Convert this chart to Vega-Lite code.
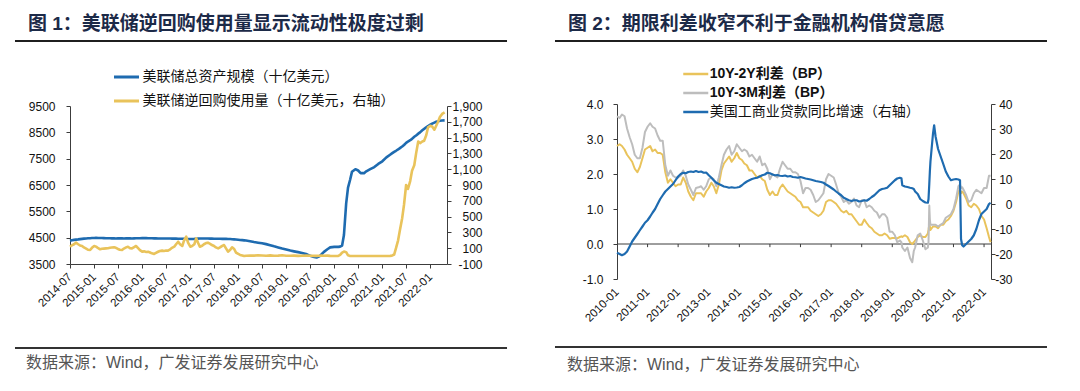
{
  "$schema": "https://vega.github.io/schema/vega-lite/v6.json",
  "background": "#ffffff",
  "padding": {"left": 13, "top": 0, "right": 0, "bottom": 0},
  "spacing": 44,
  "resolve": {"scale": {"color": "independent"}},
  "config": {
    "view": {"stroke": null},
    "axis": {"labelFont": "Liberation Sans", "labelColor": "#111111", "domainColor": "#3c3c3c", "tickColor": "#3c3c3c", "domainWidth": 1, "tickWidth": 1, "labelFontSize": 12, "grid": false, "labelOverlap": false, "labelFlush": false}
  },
  "hconcat": [
    {
      "bounds": "flush",
      "spacing": 0,
      "resolve": {"scale": {"color": "independent"}},
      "vconcat": [
        {
          "width": 377, "height": 106,
          "data": {"values": [{"t": "图 1：美联储逆回购使用量显示流动性极度过剩"}]},
          "layer": [
            {"mark": {"type": "rule", "color": "#1f1f1f", "strokeWidth": 2},
             "encoding": {
               "x": {"datum": -0.1459, "type": "quantitative", "scale": {"domain": [0, 1], "nice": false, "zero": false}, "axis": null},
               "x2": {"datum": 1.1592},
               "y": {"datum": 0.6132, "type": "quantitative", "scale": {"domain": [0, 1], "nice": false, "zero": false}, "axis": null}}},
            {"mark": {"type": "text", "align": "left", "baseline": "middle", "font": "Liberation Sans, Noto Sans CJK SC", "fontSize": 19, "fontWeight": "bold", "color": "#1c2a48"},
             "encoding": {
               "text": {"field": "t"},
               "x": {"datum": -0.1114, "type": "quantitative"},
               "y": {"datum": 0.7736, "type": "quantitative"}}}
          ]
        },
        {
          "width": 377, "height": 158,
          "data": {"format": {"parse": {"d": "date:'%Y-%m-%d'"}}, "values": [
            {"d":"2014-07-01","a":4380,"b":119},{"d":"2014-07-15","a":4400,"b":135},{"d":"2014-08-01","a":4415,"b":150},{"d":"2014-08-15","a":4425,"b":170},
            {"d":"2014-09-01","a":4435,"b":150},{"d":"2014-09-15","a":4445,"b":135},{"d":"2014-10-01","a":4455,"b":128},{"d":"2014-10-15","a":4462,"b":110},
            {"d":"2014-11-01","a":4470,"b":95},{"d":"2014-11-15","a":4475,"b":80},{"d":"2014-12-01","a":4480,"b":77},{"d":"2014-12-15","a":4485,"b":105},
            {"d":"2015-01-01","a":4490,"b":128},{"d":"2015-01-15","a":4492,"b":120},{"d":"2015-02-01","a":4490,"b":100},{"d":"2015-02-15","a":4488,"b":86},
            {"d":"2015-03-01","a":4485,"b":92},{"d":"2015-03-15","a":4482,"b":95},{"d":"2015-04-01","a":4480,"b":98},{"d":"2015-04-15","a":4478,"b":100},
            {"d":"2015-05-01","a":4476,"b":105},{"d":"2015-05-15","a":4474,"b":108},{"d":"2015-06-01","a":4472,"b":111},{"d":"2015-06-15","a":4470,"b":105},
            {"d":"2015-07-01","a":4472,"b":90},{"d":"2015-07-15","a":4475,"b":80},{"d":"2015-08-01","a":4474,"b":77},{"d":"2015-08-15","a":4470,"b":95},
            {"d":"2015-09-01","a":4472,"b":110},{"d":"2015-09-15","a":4475,"b":119},{"d":"2015-10-01","a":4472,"b":100},{"d":"2015-10-15","a":4470,"b":98},
            {"d":"2015-11-01","a":4474,"b":115},{"d":"2015-11-15","a":4476,"b":128},{"d":"2015-12-01","a":4478,"b":100},{"d":"2015-12-15","a":4480,"b":75},
            {"d":"2016-01-01","a":4482,"b":56},{"d":"2016-01-15","a":4485,"b":60},{"d":"2016-02-01","a":4482,"b":52},{"d":"2016-02-15","a":4480,"b":56},
            {"d":"2016-03-01","a":4478,"b":45},{"d":"2016-03-15","a":4476,"b":35},{"d":"2016-04-01","a":4474,"b":27},{"d":"2016-04-15","a":4472,"b":40},
            {"d":"2016-05-01","a":4470,"b":55},{"d":"2016-05-15","a":4470,"b":65},{"d":"2016-06-01","a":4470,"b":69},{"d":"2016-06-15","a":4470,"b":65},
            {"d":"2016-07-01","a":4468,"b":70},{"d":"2016-07-15","a":4468,"b":69},{"d":"2016-08-01","a":4466,"b":85},{"d":"2016-08-15","a":4465,"b":105},
            {"d":"2016-09-01","a":4463,"b":119},{"d":"2016-09-15","a":4462,"b":150},{"d":"2016-10-01","a":4460,"b":182},{"d":"2016-10-15","a":4460,"b":150},
            {"d":"2016-11-01","a":4458,"b":128},{"d":"2016-11-15","a":4456,"b":200},{"d":"2016-12-01","a":4452,"b":246},{"d":"2016-12-15","a":4450,"b":170},
            {"d":"2017-01-01","a":4450,"b":119},{"d":"2017-01-15","a":4452,"b":128},{"d":"2017-02-01","a":4455,"b":150},{"d":"2017-02-15","a":4460,"b":225},
            {"d":"2017-03-01","a":4465,"b":170},{"d":"2017-03-15","a":4468,"b":119},{"d":"2017-04-01","a":4470,"b":130},{"d":"2017-04-15","a":4470,"b":150},
            {"d":"2017-05-01","a":4468,"b":165},{"d":"2017-05-15","a":4466,"b":170},{"d":"2017-06-01","a":4464,"b":155},{"d":"2017-06-15","a":4462,"b":140},
            {"d":"2017-07-01","a":4460,"b":128},{"d":"2017-07-15","a":4460,"b":110},{"d":"2017-08-01","a":4458,"b":98},{"d":"2017-08-15","a":4456,"b":110},
            {"d":"2017-09-01","a":4455,"b":130},{"d":"2017-09-15","a":4455,"b":140},{"d":"2017-10-01","a":4455,"b":95},{"d":"2017-10-15","a":4452,"b":56},
            {"d":"2017-11-01","a":4448,"b":80},{"d":"2017-11-15","a":4442,"b":111},{"d":"2017-12-01","a":4436,"b":90},{"d":"2017-12-15","a":4430,"b":45},
            {"d":"2018-01-01","a":4420,"b":27},{"d":"2018-01-15","a":4412,"b":15},{"d":"2018-02-01","a":4405,"b":8},{"d":"2018-02-15","a":4398,"b":1},
            {"d":"2018-03-01","a":4390,"b":5},{"d":"2018-04-01","a":4365,"b":8},{"d":"2018-05-01","a":4335,"b":6},{"d":"2018-06-01","a":4310,"b":10},
            {"d":"2018-07-01","a":4285,"b":7},{"d":"2018-08-01","a":4255,"b":5},{"d":"2018-09-01","a":4215,"b":9},{"d":"2018-10-01","a":4170,"b":4},
            {"d":"2018-11-01","a":4130,"b":6},{"d":"2018-12-01","a":4085,"b":10},{"d":"2019-01-01","a":4050,"b":5},{"d":"2019-02-01","a":4010,"b":4},
            {"d":"2019-03-01","a":3980,"b":6},{"d":"2019-04-01","a":3950,"b":3},{"d":"2019-05-01","a":3920,"b":5},{"d":"2019-06-01","a":3880,"b":8},
            {"d":"2019-07-01","a":3810,"b":4},{"d":"2019-08-01","a":3770,"b":3},{"d":"2019-08-20","a":3750,"b":3},{"d":"2019-09-10","a":3790,"b":5},
            {"d":"2019-09-25","a":3860,"b":6},{"d":"2019-10-15","a":3960,"b":4},{"d":"2019-11-10","a":4060,"b":6},{"d":"2019-12-01","a":4130,"b":3},
            {"d":"2020-01-01","a":4150,"b":2},{"d":"2020-02-01","a":4150,"b":2},{"d":"2020-02-15","a":4160,"b":15},{"d":"2020-03-01","a":4200,"b":45},
            {"d":"2020-03-15","a":4600,"b":58},{"d":"2020-04-01","a":5800,"b":50},{"d":"2020-04-15","a":6400,"b":10},{"d":"2020-05-01","a":6700,"b":2},
            {"d":"2020-05-15","a":7000,"b":2},{"d":"2020-06-10","a":7100,"b":2},{"d":"2020-07-01","a":7050,"b":2},{"d":"2020-07-20","a":6950,"b":2},
            {"d":"2020-08-15","a":6950,"b":2},{"d":"2020-09-01","a":7020,"b":2},{"d":"2020-10-01","a":7100,"b":2},{"d":"2020-11-01","a":7180,"b":2},
            {"d":"2020-12-01","a":7300,"b":2},{"d":"2021-01-01","a":7400,"b":2},{"d":"2021-02-01","a":7550,"b":2},{"d":"2021-03-01","a":7650,"b":3},
            {"d":"2021-03-15","a":7700,"b":5},{"d":"2021-04-01","a":7760,"b":20},{"d":"2021-04-15","a":7800,"b":100},{"d":"2021-05-01","a":7850,"b":200},
            {"d":"2021-05-15","a":7900,"b":330},{"d":"2021-06-01","a":7960,"b":480},{"d":"2021-06-15","a":8020,"b":650},{"d":"2021-07-01","a":8100,"b":900},
            {"d":"2021-07-15","a":8150,"b":850},{"d":"2021-08-01","a":8200,"b":950},{"d":"2021-08-15","a":8250,"b":1080},{"d":"2021-09-01","a":8330,"b":1150},
            {"d":"2021-09-15","a":8380,"b":1300},{"d":"2021-10-01","a":8450,"b":1450},{"d":"2021-10-15","a":8500,"b":1430},{"d":"2021-11-01","a":8580,"b":1450},
            {"d":"2021-11-15","a":8630,"b":1460},{"d":"2021-12-01","a":8690,"b":1530},{"d":"2021-12-15","a":8740,"b":1630},{"d":"2022-01-01","a":8790,"b":1650},
            {"d":"2022-01-15","a":8830,"b":1640},{"d":"2022-02-01","a":8870,"b":1600},{"d":"2022-02-15","a":8900,"b":1650},{"d":"2022-03-01","a":8920,"b":1700},
            {"d":"2022-03-15","a":8940,"b":1760},{"d":"2022-04-01","a":8950,"b":1800},{"d":"2022-04-20","a":8955,"b":1820}
          ]},
          "encoding": {
            "x": {"field": "d", "type": "temporal", "title": null,
                  "scale": {"domain": [{"year": 2014, "month": 7, "date": 1}, {"year": 2022, "month": 5, "date": 8}]},
                  "axis": {"tickCount": {"interval": "month", "step": 6}, "format": "%Y-%m", "labelAngle": -45, "labelAlign": "right", "labelBaseline": "middle", "labelPadding": 7, "tickSize": 4, "labelFontSize": 11.5, "labelOverlap": false}}
          },
          "layer": [
            {"mark": {"type": "line", "strokeWidth": 2.6, "strokeJoin": "round"},
             "encoding": {
               "y": {"field": "a", "type": "quantitative", "title": null,
                     "scale": {"domain": [3500, 9500], "nice": false, "zero": false},
                     "axis": {"orient": "left", "values": [3500, 4500, 5500, 6500, 7500, 8500, 9500], "format": "d", "tickSize": 4, "labelPadding": 11, "labelOverlap": false}},
               "color": {"datum": "美联储总资产规模（十亿美元）", "type": "nominal",
                         "scale": {"domain": ["美联储总资产规模（十亿美元）", "美联储逆回购使用量（十亿美元，右轴）"], "range": ["#1e6bb0", "#e9c35b"]},
                         "legend": {"orient": "none", "legendX": 42.5, "legendY": -41, "title": null, "direction": "vertical", "symbolType": "stroke", "symbolSize": 625, "symbolStrokeWidth": 3, "labelFont": "Noto Sans CJK SC", "labelFontSize": 14, "labelColor": "#111111", "labelOffset": 2, "clipHeight": 24, "rowPadding": 0, "padding": 0, "labelLimit": 400}}}},
            {"mark": {"type": "line", "strokeWidth": 2.6, "strokeJoin": "round"},
             "encoding": {
               "y": {"field": "b", "type": "quantitative", "title": null,
                     "scale": {"domain": [-100, 1900], "nice": false, "zero": false},
                     "axis": {"orient": "right", "values": [-100, 100, 300, 500, 700, 900, 1100, 1300, 1500, 1700, 1900], "labelExpr": "datum.value < 0 ? '-' + format(-datum.value, ',') : format(datum.value, ',')", "tickSize": 4, "labelPadding": 31, "labelAlign": "right", "labelOverlap": false}},
               "color": {"datum": "美联储逆回购使用量（十亿美元，右轴）", "type": "nominal"}}}
          ],
          "resolve": {"scale": {"y": "independent"}}
        },
        {
          "width": 377, "height": 127,
          "data": {"values": [{"t": "数据来源：Wind，广发证券发展研究中心"}]},
          "layer": [
            {"mark": {"type": "rule", "color": "#333333", "strokeWidth": 2},
             "encoding": {
               "x": {"datum": -0.1459, "type": "quantitative", "scale": {"domain": [0, 1], "nice": false, "zero": false}, "axis": null},
               "x2": {"datum": 1.1592},
               "y": {"datum": 0.3386, "type": "quantitative", "scale": {"domain": [0, 1], "nice": false, "zero": false}, "axis": null}}},
            {"mark": {"type": "text", "align": "left", "baseline": "middle", "font": "Liberation Sans, Noto Sans CJK SC", "fontSize": 16, "color": "#555555"},
             "encoding": {
               "text": {"field": "t"},
               "x": {"datum": -0.1167, "type": "quantitative"},
               "y": {"datum": 0.2205, "type": "quantitative"}}}
          ]
        }
      ]
    },
    {
      "bounds": "flush",
      "spacing": 0,
      "resolve": {"scale": {"color": "independent"}},
      "vconcat": [
        {
          "width": 374, "height": 104,
          "data": {"values": [{"t": "图 2：期限利差收窄不利于金融机构借贷意愿"}]},
          "layer": [
            {"mark": {"type": "rule", "color": "#1f1f1f", "strokeWidth": 2},
             "encoding": {
               "x": {"datum": -0.1658, "type": "quantitative", "scale": {"domain": [0, 1], "nice": false, "zero": false}, "axis": null},
               "x2": {"datum": 1.1497},
               "y": {"datum": 0.6058, "type": "quantitative", "scale": {"domain": [0, 1], "nice": false, "zero": false}, "axis": null}}},
            {"mark": {"type": "text", "align": "left", "baseline": "middle", "font": "Liberation Sans, Noto Sans CJK SC", "fontSize": 19, "fontWeight": "bold", "color": "#1c2a48"},
             "encoding": {
               "text": {"field": "t"},
               "x": {"datum": -0.1310, "type": "quantitative"},
               "y": {"datum": 0.7692, "type": "quantitative"}}}
          ]
        },
        {
          "width": 374, "height": 175,
          "data": {"format": {"parse": {"d": "date:'%Y-%m-%d'"}}, "values": [
            {"d":"2010-01-01","a":2.80,"b":3.65,"c":-19.5},{"d":"2010-02-01","a":2.85,"b":3.60,"c":-20.0},{"d":"2010-03-01","a":2.80,"b":3.70,"c":-20.5},
            {"d":"2010-04-01","a":2.70,"b":3.65,"c":-20.0},{"d":"2010-05-01","a":2.55,"b":3.30,"c":-19.0},{"d":"2010-06-01","a":2.45,"b":3.05,"c":-17.0},
            {"d":"2010-07-01","a":2.35,"b":2.85,"c":-15.0},{"d":"2010-08-01","a":2.15,"b":2.55,"c":-13.5},{"d":"2010-09-01","a":2.05,"b":2.45,"c":-12.0},
            {"d":"2010-10-01","a":2.20,"b":2.45,"c":-10.5},{"d":"2010-11-01","a":2.45,"b":2.75,"c":-9.0},{"d":"2010-12-01","a":2.70,"b":3.20,"c":-7.5},
            {"d":"2011-01-01","a":2.75,"b":3.35,"c":-6.5},{"d":"2011-02-01","a":2.80,"b":3.45,"c":-5.0},{"d":"2011-03-01","a":2.65,"b":3.35,"c":-3.5},
            {"d":"2011-04-01","a":2.70,"b":3.30,"c":-2.0},{"d":"2011-05-01","a":2.60,"b":3.10,"c":0.0},{"d":"2011-06-01","a":2.60,"b":2.95,"c":2.0},
            {"d":"2011-07-01","a":2.55,"b":2.95,"c":3.5},{"d":"2011-08-01","a":2.05,"b":2.25,"c":5.0},{"d":"2011-09-01","a":1.75,"b":1.95,"c":6.0},
            {"d":"2011-10-01","a":1.85,"b":2.10,"c":7.0},{"d":"2011-11-01","a":1.75,"b":1.95,"c":8.0},{"d":"2011-12-01","a":1.65,"b":1.90,"c":9.5},
            {"d":"2012-01-01","a":1.70,"b":1.90,"c":11.0},{"d":"2012-02-01","a":1.70,"b":1.95,"c":12.0},{"d":"2012-03-01","a":1.90,"b":2.10,"c":12.5},
            {"d":"2012-04-01","a":1.75,"b":1.95,"c":12.3},{"d":"2012-05-01","a":1.50,"b":1.70,"c":12.8},{"d":"2012-06-01","a":1.35,"b":1.55,"c":13.0},
            {"d":"2012-07-01","a":1.25,"b":1.40,"c":12.8},{"d":"2012-08-01","a":1.45,"b":1.60,"c":13.2},{"d":"2012-09-01","a":1.45,"b":1.62,"c":12.8},
            {"d":"2012-10-01","a":1.45,"b":1.65,"c":13.0},{"d":"2012-11-01","a":1.35,"b":1.55,"c":12.5},{"d":"2012-12-01","a":1.50,"b":1.65,"c":12.6},
            {"d":"2013-01-01","a":1.60,"b":1.85,"c":11.5},{"d":"2013-02-01","a":1.75,"b":1.90,"c":10.5},{"d":"2013-03-01","a":1.65,"b":1.85,"c":9.5},
            {"d":"2013-04-01","a":1.45,"b":1.65,"c":8.5},{"d":"2013-05-01","a":1.70,"b":1.90,"c":8.0},{"d":"2013-06-01","a":2.10,"b":2.25,"c":7.5},
            {"d":"2013-07-01","a":2.30,"b":2.55,"c":7.0},{"d":"2013-08-01","a":2.40,"b":2.70,"c":6.8},{"d":"2013-09-01","a":2.50,"b":2.80,"c":6.5},
            {"d":"2013-10-01","a":2.35,"b":2.55,"c":6.7},{"d":"2013-11-01","a":2.45,"b":2.65,"c":6.5},{"d":"2013-12-01","a":2.60,"b":2.85,"c":6.6},
            {"d":"2014-01-01","a":2.45,"b":2.75,"c":6.8},{"d":"2014-02-01","a":2.40,"b":2.65,"c":7.5},{"d":"2014-03-01","a":2.30,"b":2.70,"c":8.3},
            {"d":"2014-04-01","a":2.25,"b":2.65,"c":9.0},{"d":"2014-05-01","a":2.10,"b":2.50,"c":9.5},{"d":"2014-06-01","a":2.10,"b":2.55,"c":10.0},
            {"d":"2014-07-01","a":2.00,"b":2.45,"c":10.3},{"d":"2014-08-01","a":1.90,"b":2.35,"c":10.5},{"d":"2014-09-01","a":1.95,"b":2.50,"c":11.0},
            {"d":"2014-10-01","a":1.85,"b":2.25,"c":11.5},{"d":"2014-11-01","a":1.80,"b":2.30,"c":11.8},{"d":"2014-12-01","a":1.55,"b":2.15,"c":12.5},
            {"d":"2015-01-01","a":1.40,"b":1.85,"c":12.3},{"d":"2015-02-01","a":1.50,"b":2.00,"c":11.8},{"d":"2015-03-01","a":1.40,"b":1.95,"c":11.5},
            {"d":"2015-04-01","a":1.40,"b":1.90,"c":11.6},{"d":"2015-05-01","a":1.60,"b":2.15,"c":11.3},{"d":"2015-06-01","a":1.70,"b":2.35,"c":11.2},
            {"d":"2015-07-01","a":1.60,"b":2.25,"c":11.4},{"d":"2015-08-01","a":1.50,"b":2.15,"c":11.0},{"d":"2015-09-01","a":1.45,"b":2.15,"c":11.2},
            {"d":"2015-10-01","a":1.40,"b":2.05,"c":10.8},{"d":"2015-11-01","a":1.35,"b":2.05,"c":10.7},{"d":"2015-12-01","a":1.25,"b":2.00,"c":10.5},
            {"d":"2016-01-01","a":1.20,"b":1.80,"c":10.8},{"d":"2016-02-01","a":1.05,"b":1.45,"c":10.5},{"d":"2016-03-01","a":1.05,"b":1.60,"c":10.2},
            {"d":"2016-04-01","a":1.05,"b":1.60,"c":10.0},{"d":"2016-05-01","a":0.95,"b":1.55,"c":9.8},{"d":"2016-06-01","a":0.90,"b":1.40,"c":9.5},
            {"d":"2016-07-01","a":0.85,"b":1.20,"c":9.2},{"d":"2016-08-01","a":0.80,"b":1.25,"c":9.0},{"d":"2016-09-01","a":0.85,"b":1.35,"c":8.8},
            {"d":"2016-10-01","a":0.95,"b":1.45,"c":8.5},{"d":"2016-11-01","a":1.20,"b":1.85,"c":7.8},{"d":"2016-12-01","a":1.25,"b":2.00,"c":7.2},
            {"d":"2017-01-01","a":1.25,"b":1.95,"c":6.5},{"d":"2017-02-01","a":1.20,"b":1.90,"c":5.8},{"d":"2017-03-01","a":1.15,"b":1.70,"c":5.0},
            {"d":"2017-04-01","a":1.05,"b":1.45,"c":4.2},{"d":"2017-05-01","a":0.95,"b":1.35,"c":3.5},{"d":"2017-06-01","a":0.90,"b":1.20,"c":2.5},
            {"d":"2017-07-01","a":0.95,"b":1.25,"c":2.0},{"d":"2017-08-01","a":0.85,"b":1.15,"c":1.5},{"d":"2017-09-01","a":0.85,"b":1.20,"c":1.2},
            {"d":"2017-10-01","a":0.75,"b":1.30,"c":1.5},{"d":"2017-11-01","a":0.65,"b":1.10,"c":1.5},{"d":"2017-12-01","a":0.55,"b":1.05,"c":1.0},
            {"d":"2018-01-01","a":0.55,"b":1.25,"c":1.2},{"d":"2018-02-01","a":0.70,"b":1.25,"c":1.5},{"d":"2018-03-01","a":0.60,"b":1.05,"c":1.3},
            {"d":"2018-04-01","a":0.50,"b":1.10,"c":2.0},{"d":"2018-05-01","a":0.45,"b":1.05,"c":2.8},{"d":"2018-06-01","a":0.35,"b":0.95,"c":3.5},
            {"d":"2018-07-01","a":0.30,"b":0.90,"c":4.5},{"d":"2018-08-01","a":0.25,"b":0.75,"c":5.5},{"d":"2018-09-01","a":0.25,"b":0.85,"c":6.0},
            {"d":"2018-10-01","a":0.30,"b":0.85,"c":6.2},{"d":"2018-11-01","a":0.25,"b":0.75,"c":6.5},{"d":"2018-12-01","a":0.15,"b":0.35,"c":7.5},
            {"d":"2019-01-01","a":0.17,"b":0.35,"c":8.5},{"d":"2019-02-01","a":0.17,"b":0.25,"c":9.5},{"d":"2019-03-01","a":0.16,"b":0.05,"c":10.2},
            {"d":"2019-04-01","a":0.20,"b":0.10,"c":10.5},{"d":"2019-04-20","a":0.22,"b":0.05,"c":10.3},{"d":"2019-05-01","a":0.20,"b":-0.10,"c":7.5},
            {"d":"2019-06-01","a":0.25,"b":-0.20,"c":7.0},{"d":"2019-07-01","a":0.20,"b":-0.10,"c":6.8},{"d":"2019-08-01","a":0.05,"b":-0.40,"c":6.5},
            {"d":"2019-08-28","a":0.00,"b":-0.52,"c":6.3},{"d":"2019-09-15","a":0.05,"b":-0.20,"c":6.0},{"d":"2019-10-01","a":0.10,"b":-0.10,"c":5.0},
            {"d":"2019-11-01","a":0.20,"b":0.25,"c":4.0},{"d":"2019-12-01","a":0.25,"b":0.30,"c":2.0},{"d":"2020-01-01","a":0.20,"b":0.10,"c":1.2},
            {"d":"2020-02-01","a":0.20,"b":-0.15,"c":0.6},{"d":"2020-03-01","a":0.30,"b":-0.10,"c":0.5},{"d":"2020-03-09","a":0.40,"b":0.05,"c":2.0},
            {"d":"2020-03-18","a":0.55,"b":1.10,"c":8.0},{"d":"2020-03-25","a":0.50,"b":0.70,"c":13.0},{"d":"2020-04-01","a":0.40,"b":0.55,"c":17.0},
            {"d":"2020-05-01","a":0.50,"b":0.55,"c":28.0},{"d":"2020-05-15","a":0.50,"b":0.55,"c":31.5},{"d":"2020-06-01","a":0.50,"b":0.55,"c":27.0},
            {"d":"2020-07-01","a":0.45,"b":0.50,"c":22.0},{"d":"2020-08-01","a":0.55,"b":0.55,"c":19.0},{"d":"2020-09-01","a":0.55,"b":0.60,"c":16.0},
            {"d":"2020-10-01","a":0.65,"b":0.75,"c":13.0},{"d":"2020-11-01","a":0.70,"b":0.80,"c":11.0},{"d":"2020-12-01","a":0.80,"b":0.85,"c":9.5},
            {"d":"2021-01-01","a":0.95,"b":1.00,"c":9.8},{"d":"2021-02-01","a":1.20,"b":1.30,"c":10.0},{"d":"2021-03-01","a":1.50,"b":1.65,"c":9.8},
            {"d":"2021-03-20","a":1.55,"b":1.70,"c":9.5},{"d":"2021-04-01","a":1.45,"b":1.60,"c":-14.0},{"d":"2021-04-15","a":1.50,"b":1.62,"c":-16.5},
            {"d":"2021-05-01","a":1.45,"b":1.55,"c":-17.0},{"d":"2021-06-01","a":1.30,"b":1.40,"c":-16.0},{"d":"2021-07-01","a":1.10,"b":1.20,"c":-15.0},
            {"d":"2021-08-01","a":1.05,"b":1.25,"c":-14.0},{"d":"2021-09-01","a":1.15,"b":1.45,"c":-12.5},{"d":"2021-10-01","a":1.10,"b":1.55,"c":-10.0},
            {"d":"2021-11-01","a":1.00,"b":1.50,"c":-6.5},{"d":"2021-12-01","a":0.80,"b":1.45,"c":-4.0},{"d":"2022-01-01","a":0.70,"b":1.60,"c":-3.0},
            {"d":"2022-02-01","a":0.45,"b":1.60,"c":-2.0},{"d":"2022-03-01","a":0.20,"b":1.95,"c":0.0},{"d":"2022-03-20","a":0.05,"b":1.95,"c":0.5}
          ]},
          "layer": [
            {"mark": {"type": "rule", "color": "#3c3c3c", "strokeWidth": 1},
             "data": {"values": [{"k": "zero"}]},
             "encoding": {
               "y": {"datum": 0, "type": "quantitative", "title": null, "scale": {"domain": [-1, 4], "nice": false, "zero": false}, "axis": null}}},
            {"mark": {"type": "rule", "color": "#3c3c3c", "strokeWidth": 1},
             "data": {"format": {"parse": {"d": "date:'%Y-%m-%d'"}}, "values": [
               {"d":"2011-01-01"},{"d":"2012-01-01"},{"d":"2013-01-01"},{"d":"2014-01-01"},{"d":"2015-01-01"},{"d":"2016-01-01"},
               {"d":"2017-01-01"},{"d":"2018-01-01"},{"d":"2019-01-01"},{"d":"2020-01-01"},{"d":"2021-01-01"},{"d":"2022-01-01"}]},
             "encoding": {
               "x": {"field": "d", "type": "temporal", "title": null},
               "y": {"datum": 0, "type": "quantitative", "title": null, "scale": {"domain": [-1, 4], "nice": false, "zero": false}, "axis": null},
               "y2": {"datum": -0.09}}},
            {"mark": {"type": "line", "strokeWidth": 2, "strokeJoin": "round"},
             "encoding": {
               "x": {"field": "d", "type": "temporal", "title": null,
                     "scale": {"domain": [{"year": 2010, "month": 1, "date": 1}, {"year": 2022, "month": 3, "date": 25}]},
                     "axis": {"tickCount": {"interval": "year", "step": 1}, "format": "%Y-%m", "labelAngle": -45, "labelAlign": "right", "labelBaseline": "middle", "labelPadding": 11, "ticks": false, "tickSize": 0, "domain": false, "labelFontSize": 11.5, "labelOverlap": false}},
               "y": {"field": "a", "type": "quantitative", "title": null,
                     "scale": {"domain": [-1, 4], "nice": false, "zero": false},
                     "axis": {"orient": "left", "values": [-1, 0, 1, 2, 3, 4], "labelExpr": "datum.value < 0 ? '-' + format(-datum.value, '.1f') : format(datum.value, '.1f')", "tickSize": 4, "labelPadding": 10, "labelOverlap": false}},
               "color": {"datum": "10Y-2Y利差（BP）", "type": "nominal",
                         "scale": {"domain": ["10Y-2Y利差（BP）", "10Y-3M利差（BP）", "美国工商业贷款同比增速（右轴）"], "range": ["#e9c35b", "#bdbdbd", "#1e6bb0"]},
                         "legend": {"orient": "none", "legendX": 64.75, "legendY": -39.5, "title": null, "direction": "vertical", "symbolType": "stroke", "symbolSize": 625, "symbolStrokeWidth": 2.5, "labelFont": "Liberation Sans, Noto Sans CJK SC", "labelFontSize": 14, "labelColor": "#111111", "labelOffset": 0, "clipHeight": 19, "rowPadding": 0, "padding": 0, "labelLimit": 400,
                                    "encode": {"labels": {"update": {"fontWeight": {"signal": "datum.value === '美国工商业贷款同比增速（右轴）' ? 'normal' : 'bold'"}}}}}}}},
            {"mark": {"type": "line", "strokeWidth": 2, "strokeJoin": "round"},
             "encoding": {
               "x": {"field": "d", "type": "temporal", "title": null},
               "y": {"field": "b", "type": "quantitative", "title": null, "scale": {"domain": [-1, 4], "nice": false, "zero": false}, "axis": null},
               "color": {"datum": "10Y-3M利差（BP）", "type": "nominal"}}},
            {"mark": {"type": "line", "strokeWidth": 2.2, "strokeJoin": "round"},
             "encoding": {
               "x": {"field": "d", "type": "temporal", "title": null},
               "y": {"field": "c", "type": "quantitative", "title": null,
                     "scale": {"domain": [-30, 40], "nice": false, "zero": false},
                     "axis": {"orient": "right", "values": [-30, -20, -10, 0, 10, 20, 30, 40], "labelExpr": "datum.value < 0 ? '-' + format(-datum.value, 'd') : format(datum.value, 'd')", "tickSize": 4, "labelPadding": 17, "labelAlign": "right", "labelOverlap": false}},
               "color": {"datum": "美国工商业贷款同比增速（右轴）", "type": "nominal"}}}
          ],
          "resolve": {"scale": {"y": "independent"}}
        },
        {
          "width": 374, "height": 112,
          "data": {"values": [{"t": "数据来源：Wind，广发证券发展研究中心"}]},
          "layer": [
            {"mark": {"type": "rule", "color": "#333333", "strokeWidth": 2},
             "encoding": {
               "x": {"datum": -0.1658, "type": "quantitative", "scale": {"domain": [0, 1], "nice": false, "zero": false}, "axis": null},
               "x2": {"datum": 1.1497},
               "y": {"datum": 0.3929, "type": "quantitative", "scale": {"domain": [0, 1], "nice": false, "zero": false}, "axis": null}}},
            {"mark": {"type": "text", "align": "left", "baseline": "middle", "font": "Liberation Sans, Noto Sans CJK SC", "fontSize": 16, "color": "#555555"},
             "encoding": {
               "text": {"field": "t"},
               "x": {"datum": -0.1337, "type": "quantitative"},
               "y": {"datum": 0.2321, "type": "quantitative"}}}
          ]
        }
      ]
    }
  ]
}
